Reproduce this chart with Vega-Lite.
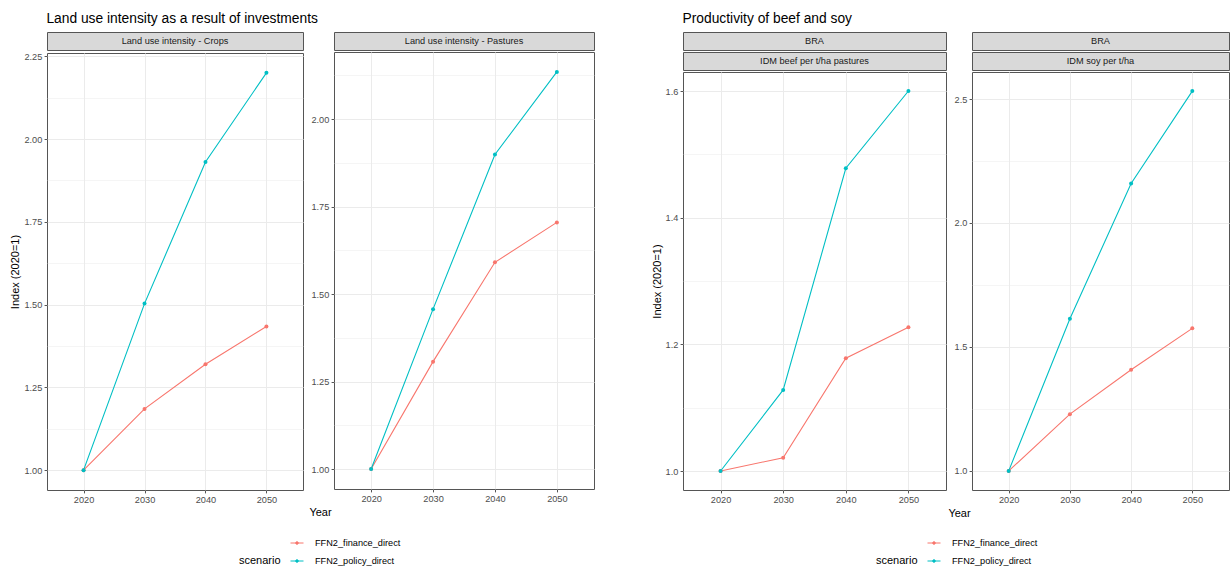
{
  "$schema": "https://vega.github.io/schema/vega-lite/v6.json",
  "padding": {"left": 9, "top": 11, "right": 0, "bottom": 0},
  "background": "white",
  "config": {
    "font": "Liberation Sans",
    "view": {"stroke": "#555555", "strokeWidth": 1},
    "axis": {
      "labelFont": "Liberation Sans", "labelFontSize": 9.2, "labelColor": "#4d4d4d",
      "tickColor": "#555555", "tickSize": 2.9, "labelPadding": 2.3, "domain": false,
      "gridColor": "#ebebeb", "titleFont": "Liberation Sans", "titleFontSize": 11,
      "titleFontWeight": "normal", "titleColor": "#000000"
    },
    "legend": {
      "direction": "vertical", "titleOrient": "left", "titleAnchor": "end",
      "titleFontSize": 11, "titleFontWeight": "normal", "titleColor": "#000000", "titlePadding": 9,
      "labelFontSize": 9.2, "labelColor": "#000000", "labelFont": "Liberation Sans", "labelOffset": 11,
      "symbolType": "M-1,0H1M-0.2,0a0.2,0.2 0 1,0 0.4,0a0.2,0.2 0 1,0 -0.4,0",
      "symbolSize": 169, "symbolStrokeWidth": 1, "rowPadding": 5
    },
    "title": {"font": "Liberation Sans", "fontSize": 13.8, "fontWeight": "normal", "color": "#000000", "anchor": "start", "offset": 6}
  },
  "datasets": {
    "vals": [
      {"panel": "Crops", "year": 2020, "scenario": "FFN2_finance_direct", "value": 1.0},
      {"panel": "Crops", "year": 2030, "scenario": "FFN2_finance_direct", "value": 1.185},
      {"panel": "Crops", "year": 2040, "scenario": "FFN2_finance_direct", "value": 1.32},
      {"panel": "Crops", "year": 2050, "scenario": "FFN2_finance_direct", "value": 1.434},
      {"panel": "Crops", "year": 2020, "scenario": "FFN2_policy_direct", "value": 1.0},
      {"panel": "Crops", "year": 2030, "scenario": "FFN2_policy_direct", "value": 1.503},
      {"panel": "Crops", "year": 2040, "scenario": "FFN2_policy_direct", "value": 1.931},
      {"panel": "Crops", "year": 2050, "scenario": "FFN2_policy_direct", "value": 2.2},
      {"panel": "Pastures", "year": 2020, "scenario": "FFN2_finance_direct", "value": 1.0},
      {"panel": "Pastures", "year": 2030, "scenario": "FFN2_finance_direct", "value": 1.307},
      {"panel": "Pastures", "year": 2040, "scenario": "FFN2_finance_direct", "value": 1.591},
      {"panel": "Pastures", "year": 2050, "scenario": "FFN2_finance_direct", "value": 1.705},
      {"panel": "Pastures", "year": 2020, "scenario": "FFN2_policy_direct", "value": 1.0},
      {"panel": "Pastures", "year": 2030, "scenario": "FFN2_policy_direct", "value": 1.457},
      {"panel": "Pastures", "year": 2040, "scenario": "FFN2_policy_direct", "value": 1.899},
      {"panel": "Pastures", "year": 2050, "scenario": "FFN2_policy_direct", "value": 2.135},
      {"panel": "Beef", "year": 2020, "scenario": "FFN2_finance_direct", "value": 1.0},
      {"panel": "Beef", "year": 2030, "scenario": "FFN2_finance_direct", "value": 1.021},
      {"panel": "Beef", "year": 2040, "scenario": "FFN2_finance_direct", "value": 1.178},
      {"panel": "Beef", "year": 2050, "scenario": "FFN2_finance_direct", "value": 1.227},
      {"panel": "Beef", "year": 2020, "scenario": "FFN2_policy_direct", "value": 1.0},
      {"panel": "Beef", "year": 2030, "scenario": "FFN2_policy_direct", "value": 1.128},
      {"panel": "Beef", "year": 2040, "scenario": "FFN2_policy_direct", "value": 1.478},
      {"panel": "Beef", "year": 2050, "scenario": "FFN2_policy_direct", "value": 1.6},
      {"panel": "Soy", "year": 2020, "scenario": "FFN2_finance_direct", "value": 1.0},
      {"panel": "Soy", "year": 2030, "scenario": "FFN2_finance_direct", "value": 1.229},
      {"panel": "Soy", "year": 2040, "scenario": "FFN2_finance_direct", "value": 1.408},
      {"panel": "Soy", "year": 2050, "scenario": "FFN2_finance_direct", "value": 1.575},
      {"panel": "Soy", "year": 2020, "scenario": "FFN2_policy_direct", "value": 1.0},
      {"panel": "Soy", "year": 2030, "scenario": "FFN2_policy_direct", "value": 1.614},
      {"panel": "Soy", "year": 2040, "scenario": "FFN2_policy_direct", "value": 2.159},
      {"panel": "Soy", "year": 2050, "scenario": "FFN2_policy_direct", "value": 2.532}
    ],
    "strips": [
      {"id": "crops", "label": "Land use intensity - Crops"},
      {"id": "pastures", "label": "Land use intensity - Pastures"},
      {"id": "bra", "label": "BRA"},
      {"id": "beef", "label": "IDM beef per t/ha pastures"},
      {"id": "soy", "label": "IDM soy per t/ha"}
    ]
  },
  "resolve": {"scale": {"color": "independent"}, "legend": {"color": "independent"}},
  "spacing": 55,
  "hconcat": [
    {
      "title": {"text": "Land use intensity as a result of investments", "dx": 37},
      "spacing": 4,
      "hconcat": [
        {
          "spacing": 0,
          "vconcat": [
            {
              "width": 256, "height": 18,
              "data": {"name": "strips"},
              "transform": [{"filter": "datum.id === 'crops'"}],
              "view": {"fill": "#d9d9d9", "stroke": "#555555"},
              "mark": {"type": "text", "fontSize": 9.2, "color": "#1a1a1a"},
              "encoding": {"text": {"field": "label"}}
            },
            {
              "width": 256, "height": 437,
              "data": {"name": "vals"},
              "transform": [{"filter": "datum.panel === 'Crops'"}],
              "mark": {"type": "line", "strokeWidth": 1.1, "point": {"size": 16, "filled": true}},
              "encoding": {
                "x": {"field": "year", "type": "ordinal", "scale": {"type": "point", "padding": 0.6},
                      "axis": {"title": null, "labelAngle": 0, "grid": true}},
                "y": {"field": "value", "type": "quantitative",
                      "scale": {"domain": [0.94, 2.26], "nice": false, "zero": false},
                      "axis": {"title": "Index (2020=1)", "titlePadding": 3, "format": ".2f",
                               "values": [1, 1.125, 1.25, 1.375, 1.5, 1.625, 1.75, 1.875, 2, 2.125, 2.25],
                               "labelExpr": "indexof([1.125,1.375,1.625,1.875,2.125], datum.value) >= 0 ? '' : datum.label",
                               "tickOpacity": {"condition": {"test": "indexof([1.125,1.375,1.625,1.875,2.125], datum.value) >= 0", "value": 0}, "value": 1},
                               "gridWidth": {"condition": {"test": "indexof([1.125,1.375,1.625,1.875,2.125], datum.value) >= 0", "value": 0.5}, "value": 1}}},
                "color": {"field": "scenario", "type": "nominal", "title": "scenario",
                          "scale": {"domain": ["FFN2_finance_direct", "FFN2_policy_direct"], "range": ["#F8766D", "#00BFC4"]},
                          "legend": {"orient": "none", "legendX": 192, "legendY": 504}}
              }
            }
          ]
        },
        {
          "spacing": 0,
          "vconcat": [
            {
              "width": 260, "height": 18,
              "data": {"name": "strips"},
              "transform": [{"filter": "datum.id === 'pastures'"}],
              "view": {"fill": "#d9d9d9", "stroke": "#555555"},
              "mark": {"type": "text", "fontSize": 9.2, "color": "#1a1a1a"},
              "encoding": {"text": {"field": "label"}}
            },
            {
              "width": 260, "height": 437,
              "data": {"name": "vals"},
              "transform": [{"filter": "datum.panel === 'Pastures'"}],
              "mark": {"type": "line", "strokeWidth": 1.1, "point": {"size": 16, "filled": true}},
              "encoding": {
                "x": {"field": "year", "type": "ordinal", "scale": {"type": "point", "padding": 0.6},
                      "axis": {"title": "Year", "titleX": -14, "titleY": 23, "titleAlign": "center", "titleBaseline": "middle", "labelAngle": 0, "grid": true}},
                "y": {"field": "value", "type": "quantitative",
                      "scale": {"domain": [0.943, 2.192], "nice": false, "zero": false},
                      "axis": {"title": null, "format": ".2f",
                               "values": [1, 1.125, 1.25, 1.375, 1.5, 1.625, 1.75, 1.875, 2, 2.125],
                               "labelExpr": "indexof([1.125,1.375,1.625,1.875,2.125], datum.value) >= 0 ? '' : datum.label",
                               "tickOpacity": {"condition": {"test": "indexof([1.125,1.375,1.625,1.875,2.125], datum.value) >= 0", "value": 0}, "value": 1},
                               "gridWidth": {"condition": {"test": "indexof([1.125,1.375,1.625,1.875,2.125], datum.value) >= 0", "value": 0.5}, "value": 1}}},
                "color": {"field": "scenario", "type": "nominal", "title": "scenario",
                          "scale": {"domain": ["FFN2_finance_direct", "FFN2_policy_direct"], "range": ["#F8766D", "#00BFC4"]},
                          "legend": {"orient": "none", "legendX": 192, "legendY": 504}}
              }
            }
          ]
        }
      ]
    },
    {
      "title": {"text": "Productivity of beef and soy", "dx": 32},
      "spacing": 0,
      "hconcat": [
        {
          "spacing": 0,
          "vconcat": [
            {
              "width": 263, "height": 18,
              "data": {"name": "strips"},
              "transform": [{"filter": "datum.id === 'bra'"}],
              "view": {"fill": "#d9d9d9", "stroke": "#555555"},
              "mark": {"type": "text", "fontSize": 9.2, "color": "#1a1a1a"},
              "encoding": {"text": {"field": "label"}}
            },
            {
              "width": 263, "height": 18,
              "data": {"name": "strips"},
              "transform": [{"filter": "datum.id === 'beef'"}],
              "view": {"fill": "#d9d9d9", "stroke": "#555555"},
              "mark": {"type": "text", "fontSize": 9.2, "color": "#1a1a1a"},
              "encoding": {"text": {"field": "label"}}
            },
            {
              "width": 263, "height": 418,
              "data": {"name": "vals"},
              "transform": [{"filter": "datum.panel === 'Beef'"}],
              "mark": {"type": "line", "strokeWidth": 1.1, "point": {"size": 16, "filled": true}},
              "encoding": {
                "x": {"field": "year", "type": "ordinal", "scale": {"type": "point", "padding": 0.6},
                      "axis": {"title": null, "labelAngle": 0, "grid": true}},
                "y": {"field": "value", "type": "quantitative",
                      "scale": {"domain": [0.97, 1.63], "nice": false, "zero": false},
                      "axis": {"title": "Index (2020=1)", "titlePadding": 3, "format": ".1f",
                               "values": [1, 1.1, 1.2, 1.3, 1.4, 1.5, 1.6],
                               "labelExpr": "indexof([1.1,1.3,1.5], datum.value) >= 0 ? '' : datum.label",
                               "tickOpacity": {"condition": {"test": "indexof([1.1,1.3,1.5], datum.value) >= 0", "value": 0}, "value": 1},
                               "gridWidth": {"condition": {"test": "indexof([1.1,1.3,1.5], datum.value) >= 0", "value": 0.5}, "value": 1}}},
                "color": {"field": "scenario", "type": "nominal", "title": "scenario",
                          "scale": {"domain": ["FFN2_finance_direct", "FFN2_policy_direct"], "range": ["#F8766D", "#00BFC4"]},
                          "legend": {"orient": "none", "legendX": 193, "legendY": 504}}
              }
            }
          ]
        },
        {
          "spacing": 0,
          "vconcat": [
            {
              "width": 257, "height": 18,
              "data": {"name": "strips"},
              "transform": [{"filter": "datum.id === 'bra'"}],
              "view": {"fill": "#d9d9d9", "stroke": "#555555"},
              "mark": {"type": "text", "fontSize": 9.2, "color": "#1a1a1a"},
              "encoding": {"text": {"field": "label"}}
            },
            {
              "width": 257, "height": 18,
              "data": {"name": "strips"},
              "transform": [{"filter": "datum.id === 'soy'"}],
              "view": {"fill": "#d9d9d9", "stroke": "#555555"},
              "mark": {"type": "text", "fontSize": 9.2, "color": "#1a1a1a"},
              "encoding": {"text": {"field": "label"}}
            },
            {
              "width": 257, "height": 418,
              "data": {"name": "vals"},
              "transform": [{"filter": "datum.panel === 'Soy'"}],
              "mark": {"type": "line", "strokeWidth": 1.1, "point": {"size": 16, "filled": true}},
              "encoding": {
                "x": {"field": "year", "type": "ordinal", "scale": {"type": "point", "padding": 0.6},
                      "axis": {"title": "Year", "titleX": -13, "titleY": 23, "titleAlign": "center", "titleBaseline": "middle", "labelAngle": 0, "grid": true}},
                "y": {"field": "value", "type": "quantitative",
                      "scale": {"domain": [0.923, 2.609], "nice": false, "zero": false},
                      "axis": {"title": null, "format": ".1f",
                               "values": [1, 1.25, 1.5, 1.75, 2, 2.25, 2.5],
                               "labelExpr": "indexof([1.25,1.75,2.25], datum.value) >= 0 ? '' : datum.label",
                               "tickOpacity": {"condition": {"test": "indexof([1.25,1.75,2.25], datum.value) >= 0", "value": 0}, "value": 1},
                               "gridWidth": {"condition": {"test": "indexof([1.25,1.75,2.25], datum.value) >= 0", "value": 0.5}, "value": 1}}},
                "color": {"field": "scenario", "type": "nominal", "title": "scenario",
                          "scale": {"domain": ["FFN2_finance_direct", "FFN2_policy_direct"], "range": ["#F8766D", "#00BFC4"]},
                          "legend": {"orient": "none", "legendX": 193, "legendY": 504}}
              }
            }
          ]
        }
      ]
    }
  ]
}
